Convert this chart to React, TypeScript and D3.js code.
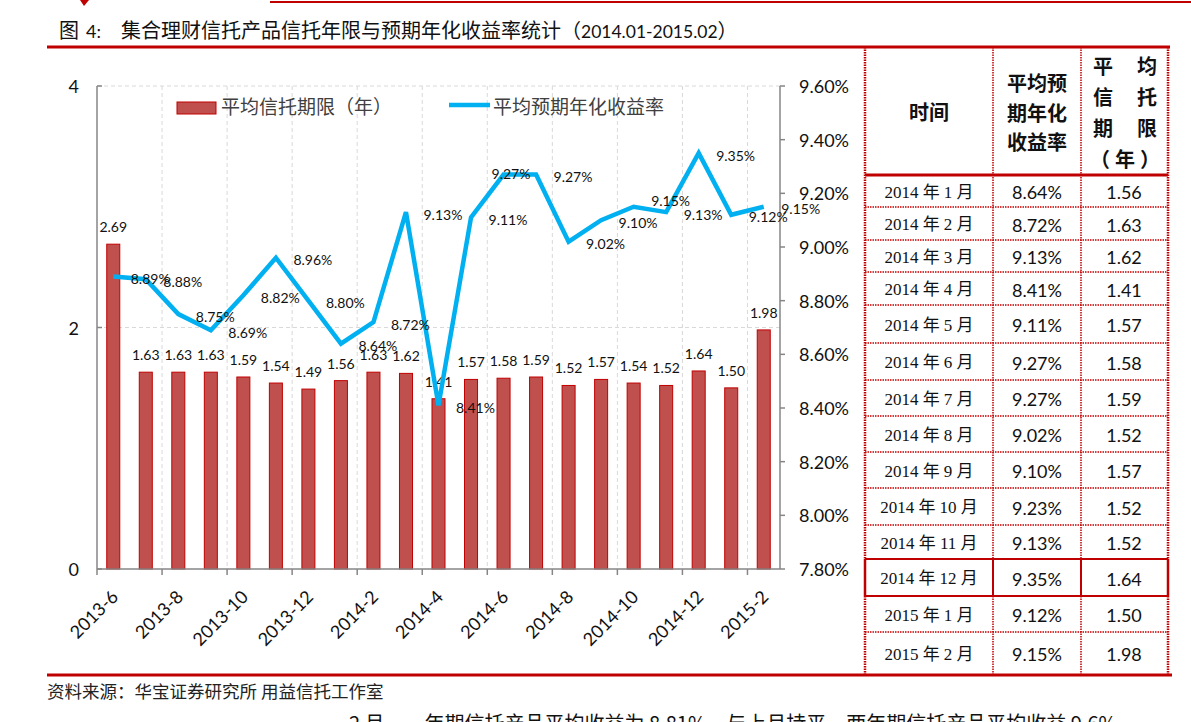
import React from 'react';
import * as d3 from 'd3';

// chart data
const months = [
    '2013-6', '2013-7', '2013-8', '2013-9', '2013-10', '2013-11', '2013-12',
    '2014-1', '2014-2', '2014-3', '2014-4', '2014-5', '2014-6', '2014-7',
    '2014-8', '2014-9', '2014-10', '2014-11', '2014-12', '2015-1', '2015-2'
];
const termYears = [2.69, 1.63, 1.63, 1.63, 1.59, 1.54, 1.49, 1.56, 1.63, 1.62, 1.41,
    1.57, 1.58, 1.59, 1.52, 1.57, 1.54, 1.52, 1.64, 1.50, 1.98];
const yieldPct = [8.89, 8.88, 8.75, 8.69, 8.82, 8.96, 8.80, 8.64, 8.72, 9.13, 8.41,
    9.11, 9.27, 9.27, 9.02, 9.10, 9.15, 9.13, 9.35, 9.12, 9.15];
const leftTicks = [0, 2, 4];
const rightTicks = [7.8, 8.0, 8.2, 8.4, 8.6, 8.8, 9.0, 9.2, 9.4, 9.6];

// table data
const tableMonths = ['2014 年 1 月', '2014 年 2 月', '2014 年 3 月', '2014 年 4 月', '2014 年 5 月',
    '2014 年 6 月', '2014 年 7 月', '2014 年 8 月', '2014 年 9 月', '2014 年 10 月',
    '2014 年 11 月', '2014 年 12 月', '2015 年 1 月', '2015 年 2 月'];
const tableYield = [8.64, 8.72, 9.13, 8.41, 9.11, 9.27, 9.27, 9.02, 9.10, 9.23, 9.13, 9.35, 9.12, 9.15];
const tableTerm = [1.56, 1.63, 1.62, 1.41, 1.57, 1.58, 1.59, 1.52, 1.57, 1.52, 1.52, 1.64, 1.50, 1.98];

// layout
const W = 1191, H = 722;
const plot = { left: 97, right: 780, top: 86, bottom: 569 };
const rowHeights = [32, 33, 32, 33, 38, 37, 36, 36, 36, 37, 34, 37, 36, 42];
const highlightRow = 11;
const cols = [865, 993, 1081, 1168];

const RED = '#C00000';
const BAR = '#C0504D';
const LINE = '#00B0F0';
const AXIS = '#868686';
const GRID = '#D9D9D9';
const LATIN = 'Lato, "Noto Sans CJK SC", sans-serif';
const CJK = '"Noto Sans CJK SC", sans-serif';

const x = d3.scaleBand<string>().domain(months).range([plot.left, plot.right]);
const yL = d3.scaleLinear().domain([0, 4]).range([plot.bottom, plot.top]);
const yR = d3.scaleLinear().domain([7.8, 9.6]).range([plot.bottom, plot.top]);
const cx = (m: string) => (x(m) as number) + x.bandwidth() / 2;
const barW = x.bandwidth() * 0.4;

// label nudges for a couple of line labels
const labelNudge: Record<number, [number, number]> = { 12: [-12, -1], 16: [17.5, -6] };

export default function App() {
    const line = d3.line<number>()
        .x((_, i) => cx(months[i]))
        .y(d => yR(d))
        .curve(d3.curveLinear);

    const boundaries = months.map((m, i) => i).filter(i => i % 2 === 0);

    const rowTops: number[] = [];
    let acc = 175;
    rowHeights.forEach(h => { rowTops.push(acc); acc += h; });
    const tableBottom = acc;

    return (
        <div style={{ position: 'absolute', left: 0, top: 0 }}>
            <svg width={W} height={H} style={{ display: 'block', background: '#fff' }}>
                {/* header decoration */}
                <path d="M80,0 L89,0 L84,6 Z" fill={RED} />
                <line x1={270} x2={W} y1={2} y2={2} stroke={RED} strokeWidth={2} />

                {/* title */}
                <text y={38} fontFamily={CJK} fontSize={20} fill="#111">
                    <tspan x={59}>图</tspan>
                    <tspan x={86} fontFamily={LATIN} fontSize={18}>4:</tspan>
                    <tspan x={121}>集合理财信托产品信托年限与预期年化收益率统计（</tspan>
                    <tspan fontFamily={LATIN} fontSize={17.5}>2014.01-2015.02</tspan>
                    <tspan>）</tspan>
                </text>
                <line x1={47} x2={1170} y1={47} y2={47} stroke={RED} strokeWidth={3} />

                {/* gridlines */}
                {leftTicks.filter(t => t > 0).map(t => (
                    <line key={'hg' + t} x1={plot.left} x2={plot.right} y1={yL(t)} y2={yL(t)}
                        stroke={GRID} strokeDasharray="4 3" />
                ))}
                {boundaries.filter(i => i > 0).map(i => (
                    <line key={'vg' + i} x1={x(months[i])} x2={x(months[i])} y1={plot.top} y2={plot.bottom}
                        stroke={GRID} strokeDasharray="4 3" />
                ))}

                {/* bars */}
                {termYears.map((v, i) => (
                    <rect key={'b' + i} x={cx(months[i]) - barW / 2} y={yL(v)} width={barW}
                        height={yL(0) - yL(v)} fill={BAR} stroke={RED} strokeWidth={1} />
                ))}
                {termYears.map((v, i) => (
                    <text key={'bl' + i} x={cx(months[i])} y={yL(v) - 12} textAnchor="middle"
                        fontFamily={LATIN} fontSize={14} fill="#111">{v.toFixed(2)}</text>
                ))}

                {/* axes */}
                <line x1={plot.left} x2={plot.left} y1={plot.top} y2={plot.bottom} stroke={AXIS} strokeWidth={1.5} />
                <line x1={plot.right} x2={plot.right} y1={plot.top} y2={plot.bottom} stroke={AXIS} strokeWidth={1.5} />
                <line x1={plot.left} x2={plot.right} y1={plot.bottom} y2={plot.bottom} stroke={AXIS} strokeWidth={1.5} />
                {leftTicks.map(t => (
                    <g key={'lt' + t}>
                        <line x1={plot.left} x2={plot.left + 5} y1={yL(t)} y2={yL(t)} stroke={AXIS} strokeWidth={1.5} />
                        <text x={79} y={yL(t)} textAnchor="end" dominantBaseline="central"
                            fontFamily={LATIN} fontSize={18} fill="#111">{t}</text>
                    </g>
                ))}
                {rightTicks.map(t => (
                    <g key={'rt' + t}>
                        <line x1={plot.right} x2={plot.right + 5} y1={yR(t)} y2={yR(t)} stroke={AXIS} strokeWidth={1.5} />
                        <text x={799} y={yR(t)} dominantBaseline="central"
                            fontFamily={LATIN} fontSize={18} fill="#111">{t.toFixed(2)}%</text>
                    </g>
                ))}
                {boundaries.map(i => (
                    <g key={'xt' + i}>
                        <line x1={x(months[i])} x2={x(months[i])} y1={plot.bottom} y2={plot.bottom + 6}
                            stroke={AXIS} strokeWidth={1.5} />
                        <text transform={`translate(${cx(months[i]) + 6},598) rotate(-45)`} textAnchor="end"
                            fontFamily={LATIN} fontSize={18} fill="#111">{months[i]}</text>
                    </g>
                ))}

                {/* line */}
                <path d={line(yieldPct) as string} fill="none" stroke={LINE} strokeWidth={4.5}
                    strokeLinejoin="miter" />
                {yieldPct.map((v, i) => {
                    const [dx, dy] = labelNudge[i] || [17.5, 2];
                    return (
                        <text key={'ll' + i} x={cx(months[i]) + dx} y={yR(v) + dy} dominantBaseline="central"
                            fontFamily={LATIN} fontSize={14} fill="#111">{v.toFixed(2)}%</text>
                    );
                })}

                {/* legend */}
                <rect x={177} y={102} width={39} height={12} fill={BAR} stroke={RED} strokeWidth={1} />
                <text x={221} y={105} dominantBaseline="central" fontFamily={CJK} fontSize={19} fill="#404040">
                    平均信托期限（年）
                </text>
                <line x1={449} x2={490} y1={105} y2={105} stroke={LINE} strokeWidth={4.5} />
                <text x={493} y={105} dominantBaseline="central" fontFamily={CJK} fontSize={19} fill="#404040">
                    平均预期年化收益率
                </text>

                {/* table header */}
                <g fontFamily={CJK} fontSize={20} fontWeight={700} fill="#111" textAnchor="middle">
                    <text x={929} y={111} dominantBaseline="central">时间</text>
                    <text x={1037} y={82} dominantBaseline="central">平均预</text>
                    <text x={1037} y={112} dominantBaseline="central">期年化</text>
                    <text x={1037} y={141} dominantBaseline="central">收益率</text>
                    <text x={1103} y={65} dominantBaseline="central">平</text>
                    <text x={1147} y={65} dominantBaseline="central">均</text>
                    <text x={1103} y={96} dominantBaseline="central">信</text>
                    <text x={1147} y={96} dominantBaseline="central">托</text>
                    <text x={1103} y={127} dominantBaseline="central">期</text>
                    <text x={1147} y={127} dominantBaseline="central">限</text>
                    <text x={1100} y={158} dominantBaseline="central">（</text>
                    <text x={1125} y={158} dominantBaseline="central">年</text>
                    <text x={1150} y={158} dominantBaseline="central">）</text>
                </g>

                {/* table rows */}
                {tableMonths.map((m, i) => {
                    const top = rowTops[i];
                    const mid = top + rowHeights[i] / 2 + 1;
                    return (
                        <g key={'row' + i}>
                            <text x={929} y={mid} textAnchor="middle" dominantBaseline="central"
                                fontFamily='"Liberation Serif", "Noto Sans CJK SC", serif' fontSize={17} fill="#111">{m}</text>
                            <text x={1037} y={mid} textAnchor="middle" dominantBaseline="central"
                                fontFamily={LATIN} fontSize={18} fill="#111">{tableYield[i].toFixed(2)}%</text>
                            <text x={1124} y={mid} textAnchor="middle" dominantBaseline="central"
                                fontFamily={LATIN} fontSize={18} fill="#111">{tableTerm[i].toFixed(2)}</text>
                        </g>
                    );
                })}

                {/* table grid */}
                {rowTops.slice(1).map((t, k) => {
                    const solid = k + 1 === highlightRow || k + 1 === highlightRow + 1;
                    return (
                        <line key={'hr' + k} x1={cols[0]} x2={cols[3]} y1={t} y2={t} stroke={RED}
                            strokeWidth={solid ? 2 : 1.5} strokeDasharray={solid ? undefined : '1.5 1'} />
                    );
                })}
                {cols.map((c, k) => {
                    const outer = k === 0 || k === 3;
                    const hTop = rowTops[highlightRow];
                    const hBot = hTop + rowHeights[highlightRow];
                    return (
                        <g key={'vc' + k}>
                            <line x1={c} x2={c} y1={47} y2={hTop} stroke={RED}
                                strokeWidth={outer ? 2.5 : 1.5} strokeDasharray="1.5 1" />
                            <line x1={c} x2={c} y1={hTop} y2={hBot} stroke={RED} strokeWidth={outer ? 2.5 : 2} />
                            <line x1={c} x2={c} y1={hBot} y2={tableBottom} stroke={RED}
                                strokeWidth={outer ? 2.5 : 1.5} strokeDasharray="1.5 1" />
                        </g>
                    );
                })}
                <line x1={cols[0]} x2={cols[3]} y1={175} y2={175} stroke={RED} strokeWidth={3} />

                {/* footer */}
                <line x1={47} x2={1172} y1={tableBottom + 1} y2={tableBottom + 1} stroke={RED} strokeWidth={3} />
                <text x={47} y={698} fontFamily={CJK} fontSize={17.5} fill="#222">
                    资料来源：华宝证券研究所 用益信托工作室
                </text>
                <text x={349} y={731} fontFamily={CJK} fontSize={20} fill="#111">
                    2 月，一年期信托产品平均收益为 8.81%，与上月持平，两年期信托产品平均收益 9.6%
                </text>
            </svg>
        </div>
    );
}
